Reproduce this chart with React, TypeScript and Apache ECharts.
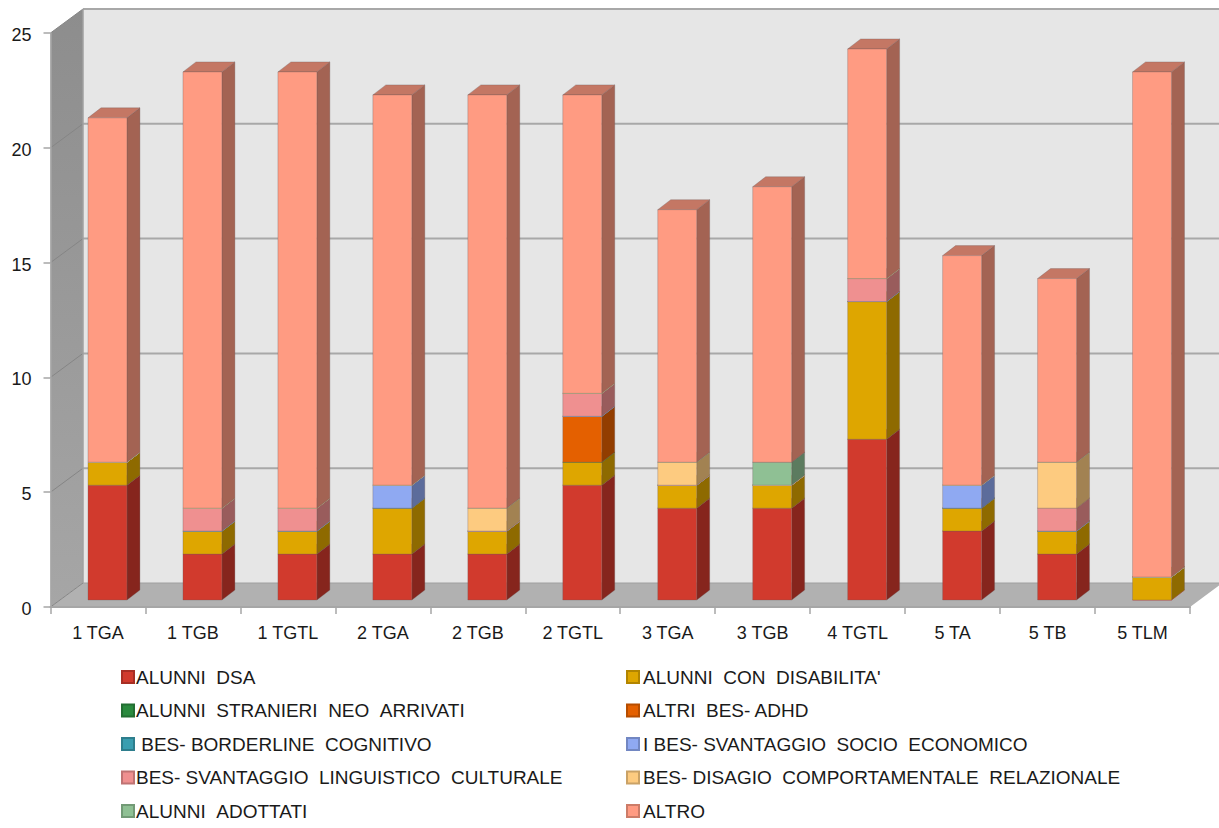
import React, { useEffect, useRef } from "react";
import * as echarts from "echarts";

const categories = ["1 TGA", "1 TGB", "1 TGTL", "2 TGA", "2 TGB", "2 TGTL", "3 TGA", "3 TGB", "4 TGTL", "5 TA", "5 TB", "5 TLM"];
const yTicks = [0, 5, 10, 15, 20, 25];

const alunniDsa = [5, 2, 2, 2, 2, 5, 4, 4, 7, 3, 2, 0];
const alunniDisabilita = [1, 1, 1, 2, 1, 1, 1, 1, 6, 1, 1, 1];
const alunniStranieri = [0, 0, 0, 0, 0, 0, 0, 0, 0, 0, 0, 0];
const altriAdhd = [0, 0, 0, 0, 0, 2, 0, 0, 0, 0, 0, 0];
const borderline = [0, 0, 0, 0, 0, 0, 0, 0, 0, 0, 0, 0];
const svantaggioSocio = [0, 0, 0, 1, 0, 0, 0, 0, 0, 1, 0, 0];
const svantaggioLinguistico = [0, 1, 1, 0, 0, 1, 0, 0, 1, 0, 1, 0];
const disagio = [0, 0, 0, 0, 1, 0, 1, 0, 0, 0, 2, 0];
const adottati = [0, 0, 0, 0, 0, 0, 0, 1, 0, 0, 0, 0];
const altro = [15, 19, 19, 17, 18, 13, 11, 12, 10, 10, 8, 22];

const seriesNames = [
  "ALUNNI DSA",
  "ALUNNI CON DISABILITA'",
  "ALUNNI STRANIERI NEO ARRIVATI",
  "ALTRI BES- ADHD",
  " BES- BORDERLINE COGNITIVO",
  "I BES- SVANTAGGIO SOCIO ECONOMICO",
  "BES- SVANTAGGIO LINGUISTICO CULTURALE",
  "BES- DISAGIO COMPORTAMENTALE RELAZIONALE",
  "ALUNNI ADOTTATI",
  "ALTRO",
];
const seriesValues = [alunniDsa, alunniDisabilita, alunniStranieri, altriAdhd, borderline, svantaggioSocio, svantaggioLinguistico, disagio, adottati, altro];
const seriesColors = ["#d13a2d", "#dea600", "#2a8a3e", "#e46000", "#3a9eb0", "#8fa9f2", "#ef9090", "#fdcb80", "#8fc094", "#ff9b82"];

// Pixel offsets of the pseudo-3D projection
const WALL_DX = 32.5;
const WALL_DY = -24;
const BAR_DX = 9.5;
const BAR_DY = -7;
const DEPTH_DX = 13;
const DEPTH_DY = -10;

const shade = (hex: string, k: number) => {
  const n = parseInt(hex.slice(1), 16);
  const c = [(n >> 16) & 255, (n >> 8) & 255, n & 255].map((v) => Math.round(v * k));
  return `rgb(${c[0]},${c[1]},${c[2]})`;
};

const poly = (points: number[][], fill: any, stroke?: string, lineWidth = 1) => ({
  type: "polygon",
  shape: { points },
  style: { fill, stroke: stroke ?? "none", lineWidth },
  silent: true,
});

const wallsItem = (_params: any, api: any) => {
  const children: any[] = [];
  const slot = api.size([1, 0])[0];
  const x0 = api.coord([0, 0])[0] - slot / 2;
  const x1 = x0 + slot * categories.length;
  const y0 = api.coord([0, 0])[1];
  const y25 = api.coord([0, 25])[1];
  const back = (p: number[]) => [p[0] + WALL_DX, p[1] + WALL_DY];
  children.push(
    poly([back([x0, y25]), back([x1, y25]), back([x1, y0]), back([x0, y0])], "#e6e6e6"),
    poly(
      [[x0, y25], back([x0, y25]), back([x0, y0]), [x0, y0]],
      new echarts.graphic.LinearGradient(0, 0, 0, 1, [
        { offset: 0, color: "#8d8d8d" },
        { offset: 1, color: "#a6a6a6" },
      ]),
    ),
    poly([[x0, y0], back([x0, y0]), back([x1, y0]), [x1, y0]], "#b1b1b1"),
  );
  yTicks.forEach((t) => {
    const y = api.coord([0, t])[1];
    const b = back([x0, y]);
    children.push({
      type: "line",
      shape: { x1: b[0], y1: b[1], x2: b[0] + (x1 - x0), y2: b[1] },
      style: { stroke: t === 0 ? "#a0a0a0" : "#a8a8a8", lineWidth: t === 0 ? 1 : 2 },
    });
    children.push({
      type: "line",
      shape: { x1: x0, y1: y, x2: b[0], y2: b[1] },
      style: { stroke: "#858585", lineWidth: 1 },
    });
  });
  const bl = back([x0, y0]);
  const tl = back([x0, y25]);
  children.push({
    type: "line",
    shape: { x1: tl[0], y1: tl[1], x2: bl[0], y2: bl[1] },
    style: { stroke: "#a0a0a0", lineWidth: 1.5 },
  });
  return { type: "group", children };
};

const segmentItem = (color: string) => (_params: any, api: any) => {
  const slot = api.size([1, 0])[0];
  const width = slot * 0.41;
  const low = api.coord([api.value(0), api.value(1)]);
  const high = api.coord([api.value(0), api.value(2)]);
  const xl = low[0] + BAR_DX - width / 2;
  const xr = xl + width;
  const yb = low[1] + BAR_DY;
  const yt = high[1] + BAR_DY;
  const edge = "rgba(110,90,90,0.3)";
  if (api.value(2) === api.value(1)) {
    // An empty segment still leaves a hairline where it sits in the stack
    return {
      type: "polyline",
      shape: { points: [[xl, yb], [xr, yb], [xr + DEPTH_DX, yb + DEPTH_DY]] },
      style: { stroke: color, fill: "none", lineWidth: 1, opacity: 0.7 },
    };
  }
  return {
    type: "group",
    children: [
      poly([[xr, yb], [xr + DEPTH_DX, yb + DEPTH_DY], [xr + DEPTH_DX, yt + DEPTH_DY], [xr, yt]], shade(color, 0.64), edge),
      poly([[xl, yt], [xr, yt], [xr + DEPTH_DX, yt + DEPTH_DY], [xl + DEPTH_DX, yt + DEPTH_DY]], shade(color, 0.77), edge),
      poly([[xl, yb], [xr, yb], [xr, yt], [xl, yt]], color, edge),
    ],
  };
};

// Legend words sit further apart than a plain space, except after "BES-" and a lone "I"
const legendText = (name: string) => name.replace(/([^-\sI]|[^\s]I) (?=\S)/g, "$1\u00a0\u00a0");

const legendBase = (left: number, textInset: number, data: string[]) => ({
  orient: "vertical" as const,
  left,
  top: 667,
  padding: 0,
  data,
  icon: "rect",
  itemWidth: 12,
  itemHeight: 12,
  itemGap: 13.5,
  selectedMode: false,
  formatter: legendText,
  textStyle: { color: "#1a1a1a", fontSize: 19, lineHeight: 20, padding: [0, 0, 0, textInset], fontFamily: "Liberation Sans" },
});

export default function App() {
  const ref = useRef<HTMLDivElement>(null);
  useEffect(() => {
    document.body.style.margin = "0";
    const chart = echarts.init(ref.current!, null, { renderer: "svg" });
    const running = categories.map(() => 0);
    const bars = seriesNames.map((name, s) => {
      const rows = categories.map((_, i) => {
        const base = running[i];
        running[i] += seriesValues[s][i];
        return [i, base, running[i]];
      });
      return {
        type: "custom" as const,
        name,
        z: 3,
        clip: false,
        silent: true,
        renderItem: segmentItem(seriesColors[s]),
        encode: { x: 0, y: [1, 2] },
        data: rows,
        itemStyle: { color: seriesColors[s], borderColor: shade(seriesColors[s], 0.8), borderWidth: 1 },
      };
    });
    chart.setOption({
      animation: false,
      backgroundColor: "#ffffff",
      textStyle: { fontFamily: "Liberation Sans" },
      grid: { left: 50.5, right: 29, top: 33, bottom: 221, containLabel: false },
      legend: [
        legendBase(121, -3, seriesNames.filter((_, i) => i % 2 === 0)),
        legendBase(626, -1, seriesNames.filter((_, i) => i % 2 === 1)),
      ],
      xAxis: {
        type: "category",
        data: categories,
        z: 4,
        axisLine: { lineStyle: { color: "#a6a6a6", width: 2 } },
        axisTick: { show: true, alignWithLabel: false, length: 7, lineStyle: { color: "#a6a6a6", width: 1.5 } },
        axisLabel: { color: "#1a1a1a", fontSize: 18, margin: 17, fontFamily: "Liberation Sans" },
        splitLine: { show: false },
      },
      yAxis: {
        type: "value",
        min: 0,
        max: 25,
        interval: 5,
        z: 4,
        axisLine: { show: true, lineStyle: { color: "#a6a6a6", width: 1.5 } },
        axisTick: { show: true, length: 7, lineStyle: { color: "#a6a6a6", width: 1.5 } },
        axisLabel: { color: "#1a1a1a", fontSize: 18, margin: 19, verticalAlign: "top", padding: [-7, 0, 0, 0], fontFamily: "Liberation Sans" },
        splitLine: { show: false },
      },
      series: [
        {
          type: "custom",
          name: "walls",
          z: 1,
          clip: false,
          silent: true,
          renderItem: wallsItem,
          encode: { x: 0, y: 1 },
          data: [[0, 0]],
        },
        ...bars,
      ],
    });
    return () => chart.dispose();
  }, []);
  return <div ref={ref} style={{ position: "fixed", left: 0, top: 0, width: 1219, height: 828 }} />;
}
